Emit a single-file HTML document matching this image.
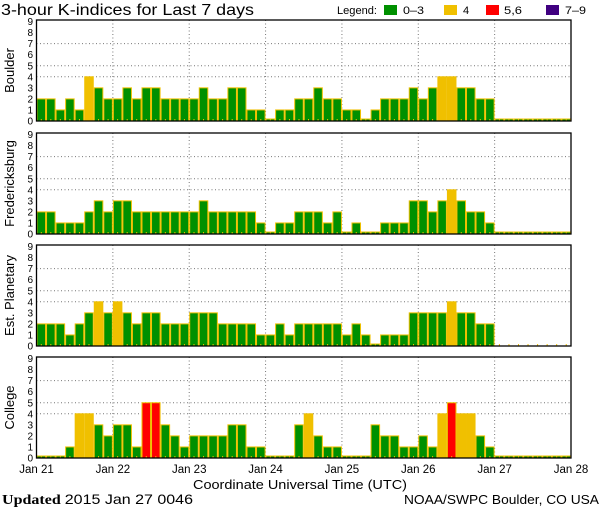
<!DOCTYPE html>
<html><head><meta charset="utf-8"><style>
html,body{margin:0;padding:0;background:#fff;}
svg{display:block;font-family:"Liberation Sans",sans-serif;}
</style></head><body>
<svg id="chart" width="600" height="510" viewBox="0 0 600 510" xmlns="http://www.w3.org/2000/svg">
<text x="1" y="15" font-size="16" textLength="253" lengthAdjust="spacingAndGlyphs">3-hour K-indices for Last 7 days</text>
<g font-size="11">
<text x="337" y="14" textLength="40" lengthAdjust="spacingAndGlyphs">Legend:</text>
<rect x="384" y="5" width="13" height="10" fill="#009000"/>
<text x="403" y="14" textLength="21" lengthAdjust="spacingAndGlyphs">0–3</text>
<rect x="444" y="5" width="13" height="10" fill="#f0c000"/>
<text x="463" y="14">4</text>
<rect x="486" y="5" width="13" height="10" fill="#ff0000"/>
<text x="504" y="14" textLength="18" lengthAdjust="spacingAndGlyphs">5,6</text>
<rect x="546" y="5" width="13" height="10" fill="#400080"/>
<text x="565" y="14" textLength="21" lengthAdjust="spacingAndGlyphs">7–9</text>
</g>
<text x="193" y="489" font-size="13" textLength="214" lengthAdjust="spacingAndGlyphs">Coordinate Universal Time (UTC)</text>
<text x="2" y="504" font-size="14" font-family="Liberation Serif,serif" textLength="191" lengthAdjust="spacingAndGlyphs"><tspan font-weight="bold">Updated</tspan> <tspan font-family="Liberation Sans,sans-serif" font-size="14">2015 Jan 27 0046</tspan></text>
<text x="404" y="504" font-size="13" textLength="195" lengthAdjust="spacingAndGlyphs">NOAA/SWPC Boulder, CO USA</text>
</svg>
<script>
const stations = ["Boulder", "Fredericksburg", "Est. Planetary", "College"];
const boulder = [2,2,1,2,1,4,3,2, 2,3,2,3,3,2,2,2, 2,3,2,2,3,3,1,1, 0,1,1,2,2,3,2,2, 1,1,0,1,2,2,2,3, 2,3,4,4,3,3,2,2, 0,0,0,0,0,0,0,0];
const fredericksburg = [2,2,1,1,1,2,3,2, 3,3,2,2,2,2,2,2, 2,3,2,2,2,2,2,1, 0,1,1,2,2,2,1,2, 0,1,0,0,1,1,1,3, 3,2,3,4,3,2,2,1, 0,0,0,0,0,0,0,0];
const planetary = [2,2,2,1,2,3,4,3, 4,3,2,3,3,2,2,2, 3,3,3,2,2,2,2,1, 1,2,1,2,2,2,2,2, 1,2,1,0,1,1,1,3, 3,3,3,4,3,3,2,2, null,null,null,null,null,null,null,null];
const college = [0,0,0,1,4,4,3,2, 3,3,1,5,5,3,2,1, 2,2,2,2,3,3,1,1, 0,0,0,3,4,2,1,1, 0,0,0,3,2,2,1,1, 2,1,4,5,4,4,2,1, 0,0,0,0,0,0,0,0];
const dayLabels = ["Jan 21","Jan 22","Jan 23","Jan 24","Jan 25","Jan 26","Jan 27","Jan 28"];
const yTicks = [0,1,2,3,4,5,6,7,8,9];
const gridLevels = [4,5,7];

const series = [boulder, fredericksburg, planetary, college];
const svg = document.getElementById('chart');
const NS = 'http://www.w3.org/2000/svg';
const X0 = 36.5, X1 = 571, N = 56;
const bottoms = [121, 234, 346, 458];
const PH = 101, UNIT = 11.05;
const bw = (X1 - X0) / N;
function xScale(i){ return X0 + i * bw; }
function mk(tag, attrs){ const e = document.createElementNS(NS, tag); for (const k in attrs) e.setAttribute(k, attrs[k]); svg.appendChild(e); return e; }
function color(v){ return v <= 3 ? '#009000' : v === 4 ? '#f0c000' : v <= 6 ? '#ff0000' : '#400080'; }

series.forEach((data, p) => {
  const b = bottoms[p], top = b - PH;
  const yScale = v => b - v * UNIT;
  const bg = mk('rect', {x: X0, y: top, width: X1 - X0, height: PH, fill: '#fff'});
  
  
  gridLevels.forEach(g => {
    const l = mk('line', {x1: X0, x2: X1, y1: yScale(g), y2: yScale(g), stroke: '#777', 'stroke-dasharray': '1,2.5'});
    
    
  });
  for (let d = 1; d < 7; d++) {
    const x = xScale(d * 8);
    const l = mk('line', {x1: x, x2: x, y1: top, y2: b, stroke: '#777', 'stroke-dasharray': '1,2.5'});
    
    
  }
  data.forEach((v, i) => {
    const x = xScale(i);
    if (v !== null) {
      const h = v === 0 ? 2 : v * UNIT;
      const r = mk('rect', {x: x + 0.5, y: b - h, width: bw - 1, height: h, fill: color(v), stroke: '#f0c000', 'stroke-width': 1});
      
      
    }
    const t = mk('line', {x1: x + bw / 2, x2: x + bw / 2, y1: b - 2, y2: b, stroke: '#f0c000', 'stroke-width': 1});
    
    
  });
  const fr = mk('rect', {x: X0, y: top, width: X1 - X0, height: PH, fill: 'none', stroke: '#000', 'stroke-width': 1.3});
  
  
  yTicks.forEach(v => {
    const t = mk('text', {x: 33, y: yScale(v) + 3.5, 'font-size': 10, 'text-anchor': 'end'});
    t.textContent = v;
    
    
  });
  const cy = top + PH / 2;
  const lab = mk('text', {x: 0, y: 0, 'font-size': 13, 'text-anchor': 'middle', transform: 'translate(14,' + cy + ') rotate(-90)'});
  lab.textContent = stations[p];
  
  
});
dayLabels.forEach((s, d) => {
  const t = mk('text', {x: xScale(d * 8), y: 473, 'font-size': 11.5, 'text-anchor': 'middle'});
  t.textContent = s;
  
  
});
</script>
</body></html>
